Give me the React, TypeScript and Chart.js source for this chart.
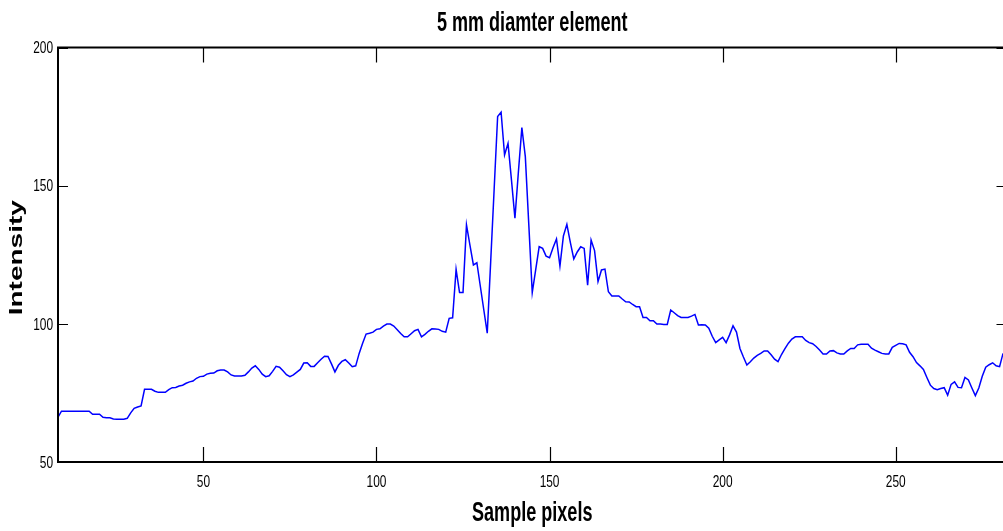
import React, { useEffect, useRef } from "react";
import { Chart, registerables } from "chart.js";

Chart.register(...registerables);

const titleText = "5 mm diamter element";
const xTitle = "Sample pixels";
const yTitle = "Intensity";

const firstSample = 8;
const intensity: number[] = [
  66.2, 68.4, 68.4, 68.4, 68.4, 68.4, 68.4, 68.4, 68.4, 68.4,
  67.3, 67.3, 67.3, 66.2, 66.0, 66.0, 65.6, 65.5, 65.5, 65.5,
  65.8, 67.8, 69.4, 69.9, 70.3, 76.3, 76.3, 76.3, 75.6, 75.2,
  75.2, 75.2, 76.2, 76.9, 77.0, 77.5, 77.8, 78.5, 79.0, 79.3,
  80.3, 80.9, 81.0, 81.8, 82.1, 82.2, 83.0, 83.3, 83.3, 82.6,
  81.5, 81.1, 81.1, 81.1, 81.4, 82.6, 84.0, 84.8, 83.5, 81.8,
  80.9, 81.2, 82.8, 84.6, 84.3, 83.0, 81.6, 80.9, 81.5, 82.5,
  83.5, 85.8, 85.9, 84.6, 84.6, 85.9, 87.2, 88.3, 88.2, 85.5,
  82.6, 85.0, 86.4, 87.0, 85.8, 84.5, 84.8, 89.3, 93.0, 96.3,
  96.6, 97.0, 98.0, 98.2, 99.2, 99.9, 99.9, 99.2, 97.9, 96.5,
  95.3, 95.3, 96.4, 97.5, 98.0, 95.3, 96.2, 97.3, 98.2, 98.1,
  98.0, 97.3, 97.0, 102.0, 102.2, 119.7, 111.3, 111.3, 135.8, 128.5,
  121.3, 122.1, 113.6, 105.1, 96.6, 122.7, 148.9, 175.0, 176.6, 161.1,
  165.3, 152.0, 138.2, 155.0, 171.0, 160.5, 136.0, 111.3, 119.6, 127.9,
  127.3, 124.5, 123.9, 127.5, 130.7, 120.9, 131.8, 136.0, 129.5, 123.5,
  126.0, 127.9, 127.3, 114.0, 130.3, 126.5, 115.3, 119.5, 119.8, 111.6,
  110.1, 110.1, 110.1, 109.0, 108.0, 107.9, 107.0, 106.2, 106.2, 102.3,
  102.3, 101.1, 101.1, 99.9, 99.9, 99.8, 99.8, 105.0, 104.0, 103.0,
  102.3, 102.3, 102.3, 102.8, 103.4, 99.6, 99.7, 99.6, 98.4, 95.5,
  93.2, 94.2, 95.1, 93.2, 96.0, 99.3, 97.0, 91.1, 88.0, 85.1,
  86.3, 87.6, 88.6, 89.3, 90.2, 90.2, 88.8, 87.2, 86.3, 88.9,
  91.0, 93.0, 94.5, 95.3, 95.3, 95.3, 94.0, 93.2, 92.8, 91.8,
  90.5, 89.1, 89.1, 90.2, 90.3, 89.5, 89.1, 89.1, 90.2, 91.1,
  91.1, 92.4, 92.6, 92.6, 92.6, 91.2, 90.5, 89.9, 89.3, 89.1,
  89.1, 91.5, 92.2, 92.9, 92.8, 92.4, 89.7, 88.1, 86.0, 84.8,
  83.5, 80.6, 77.8, 76.6, 76.2, 76.6, 76.9, 74.2, 78.1, 79.0,
  77.0, 76.9, 80.6, 79.7, 76.8, 74.0, 76.8, 81.0, 84.3, 85.2,
  85.9, 84.8, 84.5, 89.3,
];
const samplePixels: number[] = intensity.map((_, i) => firstSample + i);

const xMin = 8;
const xMax = 282;
const yMin = 50;
const yMax = 200;
const xTickValues = [50, 100, 150, 200, 250];
const yTickValues = [50, 100, 150, 200];

const FONT = '"Liberation Sans", Arial, sans-serif';

function squishText(
  ctx: CanvasRenderingContext2D,
  text: string,
  x: number,
  y: number,
  font: string,
  sx: number,
  align: CanvasTextAlign,
  rotate = false
) {
  ctx.save();
  ctx.font = font;
  ctx.fillStyle = "#000";
  ctx.textAlign = align;
  ctx.textBaseline = "middle";
  ctx.translate(x, y);
  ctx.scale(sx, 1);
  if (rotate) ctx.rotate(-Math.PI / 2);
  ctx.fillText(text, 0, 0);
  ctx.restore();
}

const matlabAxes = {
  id: "matlabAxes",
  afterDraw(chart: any) {
    const { ctx, chartArea } = chart;
    const xs = chart.scales.x;
    const ys = chart.scales.y;
    const { left, right, top, bottom } = chartArea;
    ctx.save();
    // ticks
    ctx.strokeStyle = "#000";
    ctx.lineWidth = 1.2;
    ctx.beginPath();
    for (const v of xTickValues) {
      const px = Math.round(xs.getPixelForValue(v)) + 0.5;
      ctx.moveTo(px, bottom);
      ctx.lineTo(px, bottom - 15);
      ctx.moveTo(px, top);
      ctx.lineTo(px, top + 15);
    }
    for (const v of yTickValues) {
      const py = Math.round(ys.getPixelForValue(v)) + 0.5;
      ctx.moveTo(left, py);
      ctx.lineTo(left + 10, py);
      ctx.moveTo(right, py);
      ctx.lineTo(right - 10, py);
    }
    ctx.stroke();
    // box
    ctx.lineWidth = 2;
    ctx.strokeRect(left, top, right - left, bottom - top);
    ctx.restore();

    // tick labels
    const tickFont = `17px ${FONT}`;
    for (const v of xTickValues) {
      squishText(ctx, String(v), xs.getPixelForValue(v), 482, tickFont, 0.7, "center");
    }
    for (const v of yTickValues) {
      squishText(ctx, String(v), 53, ys.getPixelForValue(v) + 1, tickFont, 0.7, "right");
    }
    // titles
    const bigFont = `bold 28px ${FONT}`;
    const cx = (left + right) / 2;
    squishText(ctx, titleText, cx, 23, bigFont, 0.645, "center");
    squishText(ctx, xTitle, cx, 513, bigFont, 0.645, "center");
    squishText(ctx, yTitle, 17, (top + bottom) / 2 + 3, bigFont, 0.645, "center", true);
  },
};

export default function App() {
  const canvasRef = useRef<HTMLCanvasElement | null>(null);

  useEffect(() => {
    const canvas = canvasRef.current;
    if (!canvas) return;
    const chart = new Chart(canvas, {
      type: "line",
      data: {
        datasets: [
          {
            data: samplePixels.map((x, i) => ({ x, y: intensity[i] })),
            borderColor: "#0000ff",
            borderWidth: 1.5,
            pointRadius: 0,
            tension: 0,
            fill: false,
          },
        ],
      },
      options: {
        animation: false,
        responsive: false,
        devicePixelRatio: 1,
        layout: { padding: { left: 8, top: 47.5, right: 3.5, bottom: 0 } },
        plugins: {
          legend: { display: false },
          tooltip: { enabled: false },
          title: { display: false },
        },
        scales: {
          x: {
            type: "linear",
            min: xMin,
            max: xMax,
            grid: { display: false },
            border: { display: false },
            ticks: { display: false },
            afterFit: (s: any) => {
              s.height = 69;
            },
          },
          y: {
            type: "linear",
            min: yMin,
            max: yMax,
            grid: { display: false },
            border: { display: false },
            ticks: { display: false },
            afterFit: (s: any) => {
              s.width = 50;
            },
          },
        },
      },
      plugins: [matlabAxes],
    });
    return () => chart.destroy();
  }, []);

  return (
    <div
      style={{
        position: "fixed",
        left: 0,
        top: 0,
        width: 1003,
        height: 531,
        overflow: "hidden",
        background: "#fff",
      }}
    >
      <canvas ref={canvasRef} width={1010} height={531} style={{ display: "block" }} />
    </div>
  );
}
